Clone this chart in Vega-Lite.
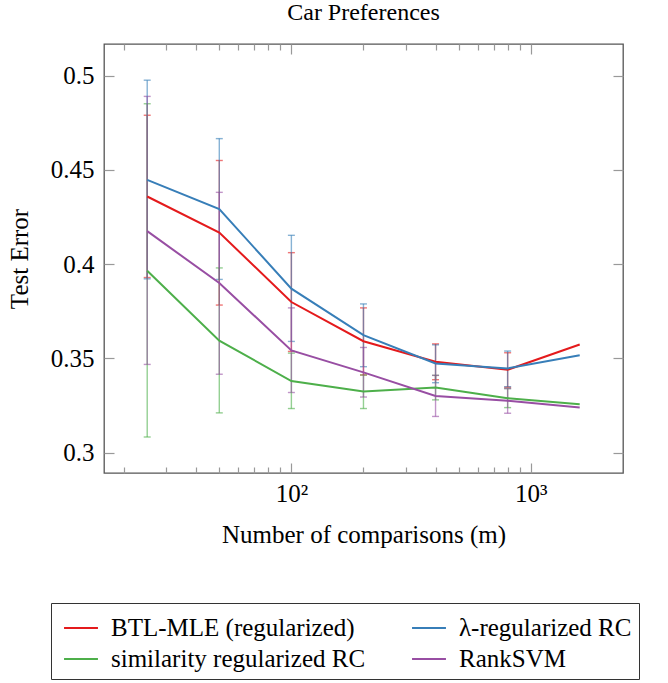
{
  "$schema": "https://vega.github.io/schema/vega-lite/v6.json",
  "width": 519,
  "height": 429,
  "padding": {"left": 7, "top": 1, "right": 0, "bottom": 0},
  "title": {"text": "Car Preferences", "font": "Liberation Serif, DejaVu Serif, serif", "fontSize": 24, "fontWeight": "normal", "color": "#000", "offset": 18},
  "config": {
    "font": "Liberation Serif, DejaVu Serif, serif",
    "view": {"stroke": "#555", "strokeWidth": 1.3},
    "axis": {
      "domain": false,
      "grid": false,
      "tickColor": "#999",
      "tickWidth": 1.2,
      "labelFont": "Liberation Serif, DejaVu Serif, serif",
      "labelFontSize": 25,
      "labelColor": "#000",
      "titleFont": "Liberation Serif, DejaVu Serif, serif",
      "titleFontSize": 25,
      "titleFontWeight": "normal",
      "titleColor": "#000"
    },
    "legend": {
      "labelFont": "Liberation Serif, DejaVu Serif, serif",
      "labelFontSize": 25,
      "labelColor": "#000"
    }
  },
  "datasets": {
    "pts": [
      {"m": 25, "method": "BTL-MLE (regularized)", "err": 0.4359, "lo": 0.3929, "hi": 0.4790},
      {"m": 50, "method": "BTL-MLE (regularized)", "err": 0.4168, "lo": 0.3783, "hi": 0.4550},
      {"m": 100, "method": "BTL-MLE (regularized)", "err": 0.3799, "lo": 0.3537, "hi": 0.4061},
      {"m": 200, "method": "BTL-MLE (regularized)", "err": 0.3591, "lo": 0.3412, "hi": 0.3768},
      {"m": 400, "method": "BTL-MLE (regularized)", "err": 0.3482, "lo": 0.3387, "hi": 0.3577},
      {"m": 800, "method": "BTL-MLE (regularized)", "err": 0.3440, "lo": 0.3347, "hi": 0.3530},
      {"m": 1600, "method": "BTL-MLE (regularized)", "err": 0.3574, "lo": null, "hi": null},
      {"m": 25, "method": "λ-regularized RC", "err": 0.4447, "lo": 0.3922, "hi": 0.4976},
      {"m": 50, "method": "λ-regularized RC", "err": 0.4292, "lo": 0.3919, "hi": 0.4666},
      {"m": 100, "method": "λ-regularized RC", "err": 0.3870, "lo": 0.3590, "hi": 0.4153},
      {"m": 200, "method": "λ-regularized RC", "err": 0.3623, "lo": 0.3456, "hi": 0.3789},
      {"m": 400, "method": "λ-regularized RC", "err": 0.3473, "lo": 0.3371, "hi": 0.3572},
      {"m": 800, "method": "λ-regularized RC", "err": 0.3447, "lo": 0.3350, "hi": 0.3539},
      {"m": 1600, "method": "λ-regularized RC", "err": 0.3517, "lo": null, "hi": null},
      {"m": 25, "method": "similarity regularized RC", "err": 0.3965, "lo": 0.3083, "hi": 0.4851},
      {"m": 50, "method": "similarity regularized RC", "err": 0.3594, "lo": 0.3211, "hi": 0.3980},
      {"m": 100, "method": "similarity regularized RC", "err": 0.3380, "lo": 0.3234, "hi": 0.3528},
      {"m": 200, "method": "similarity regularized RC", "err": 0.3324, "lo": 0.3234, "hi": 0.3412},
      {"m": 400, "method": "similarity regularized RC", "err": 0.3345, "lo": 0.3280, "hi": 0.3410},
      {"m": 800, "method": "similarity regularized RC", "err": 0.3289, "lo": 0.3239, "hi": 0.3340},
      {"m": 1600, "method": "similarity regularized RC", "err": 0.3257, "lo": null, "hi": null},
      {"m": 25, "method": "RankSVM", "err": 0.4175, "lo": 0.3468, "hi": 0.4890},
      {"m": 50, "method": "RankSVM", "err": 0.3900, "lo": 0.3416, "hi": 0.4381},
      {"m": 100, "method": "RankSVM", "err": 0.3542, "lo": 0.3319, "hi": 0.3768},
      {"m": 200, "method": "RankSVM", "err": 0.3426, "lo": 0.3295, "hi": 0.3558},
      {"m": 400, "method": "RankSVM", "err": 0.3301, "lo": 0.3192, "hi": 0.3410},
      {"m": 800, "method": "RankSVM", "err": 0.3275, "lo": 0.3209, "hi": 0.3340},
      {"m": 1600, "method": "RankSVM", "err": 0.3239, "lo": null, "hi": null}
    ]
  },
  "layer": [
    {
      "data": {"name": "pts"},
      "transform": [{"filter": "datum.lo != null"}],
      "mark": {"type": "errorbar", "ticks": {"size": 7}, "thickness": 1.4, "opacity": 0.6},
      "encoding": {
        "x": {
          "field": "m", "type": "quantitative",
          "scale": {"type": "log", "domain": [16.5, 2426], "nice": false},
          "axis": {
            "orient": "bottom",
            "values": [20, 30, 40, 50, 60, 70, 80, 90, 100, 200, 300, 400, 500, 600, 700, 800, 900, 1000],
            "tickSize": {"condition": {"test": "datum.value == 100 || datum.value == 1000", "value": -10}, "value": -6},
            "labelPadding": 18,
            "labelExpr": "datum.value == 100 ? '10²' : datum.value == 1000 ? '10³' : ''",
            "labelOverlap": false,
            "labelFlush": false,
            "title": "Number of comparisons (m)",
            "titlePadding": 12
          }
        },
        "y": {
          "field": "lo", "type": "quantitative",
          "scale": {"domain": [0.2892, 0.5168], "nice": false, "zero": false},
          "axis": {
            "orient": "left",
            "values": [0.3, 0.35, 0.4, 0.45, 0.5],
            "format": ".2~f",
            "tickSize": -10,
            "labelPadding": 20,
            "title": "Test Error",
            "titlePadding": 18
          }
        },
        "y2": {"field": "hi"},
        "color": {
          "field": "method", "type": "nominal",
          "scale": {
            "domain": ["BTL-MLE (regularized)", "λ-regularized RC", "similarity regularized RC", "RankSVM"],
            "range": ["#e41a1c", "#377eb8", "#4daf4a", "#984ea3"]
          },
          "legend": {
            "orient": "none",
            "legendX": -53,
            "legendY": 559,
            "direction": "horizontal",
            "columns": 2,
            "title": null,
            "symbolType": "stroke",
            "symbolSize": 1150,
            "symbolStrokeWidth": 2,
            "symbolOpacity": 1,
            "symbolOffset": 5,
            "labelFontSize": 25,
            "labelColor": "#000",
            "labelOffset": 12,
            "columnPadding": 40,
            "rowPadding": 0,
            "padding": 7,
            "strokeColor": "#333",
            "labelLimit": 400
          }
        }
      }
    },
    {
      "data": {"name": "pts"},
      "mark": {"type": "line", "strokeWidth": 2},
      "encoding": {
        "x": {
          "field": "m", "type": "quantitative",
          "axis": {
            "orient": "top",
            "values": [20, 30, 40, 50, 60, 70, 80, 90, 100, 200, 300, 400, 500, 600, 700, 800, 900, 1000],
            "tickSize": {"condition": {"test": "datum.value == 100 || datum.value == 1000", "value": -10}, "value": -6},
            "labels": false,
            "title": null
          }
        },
        "y": {
          "field": "err", "type": "quantitative",
          "axis": {
            "orient": "right",
            "values": [0.3, 0.35, 0.4, 0.45, 0.5],
            "tickSize": -10,
            "labels": false,
            "title": null
          }
        },
        "color": {"field": "method", "type": "nominal"}
      }
    }
  ],
  "resolve": {"axis": {"x": "independent", "y": "independent"}}
}
